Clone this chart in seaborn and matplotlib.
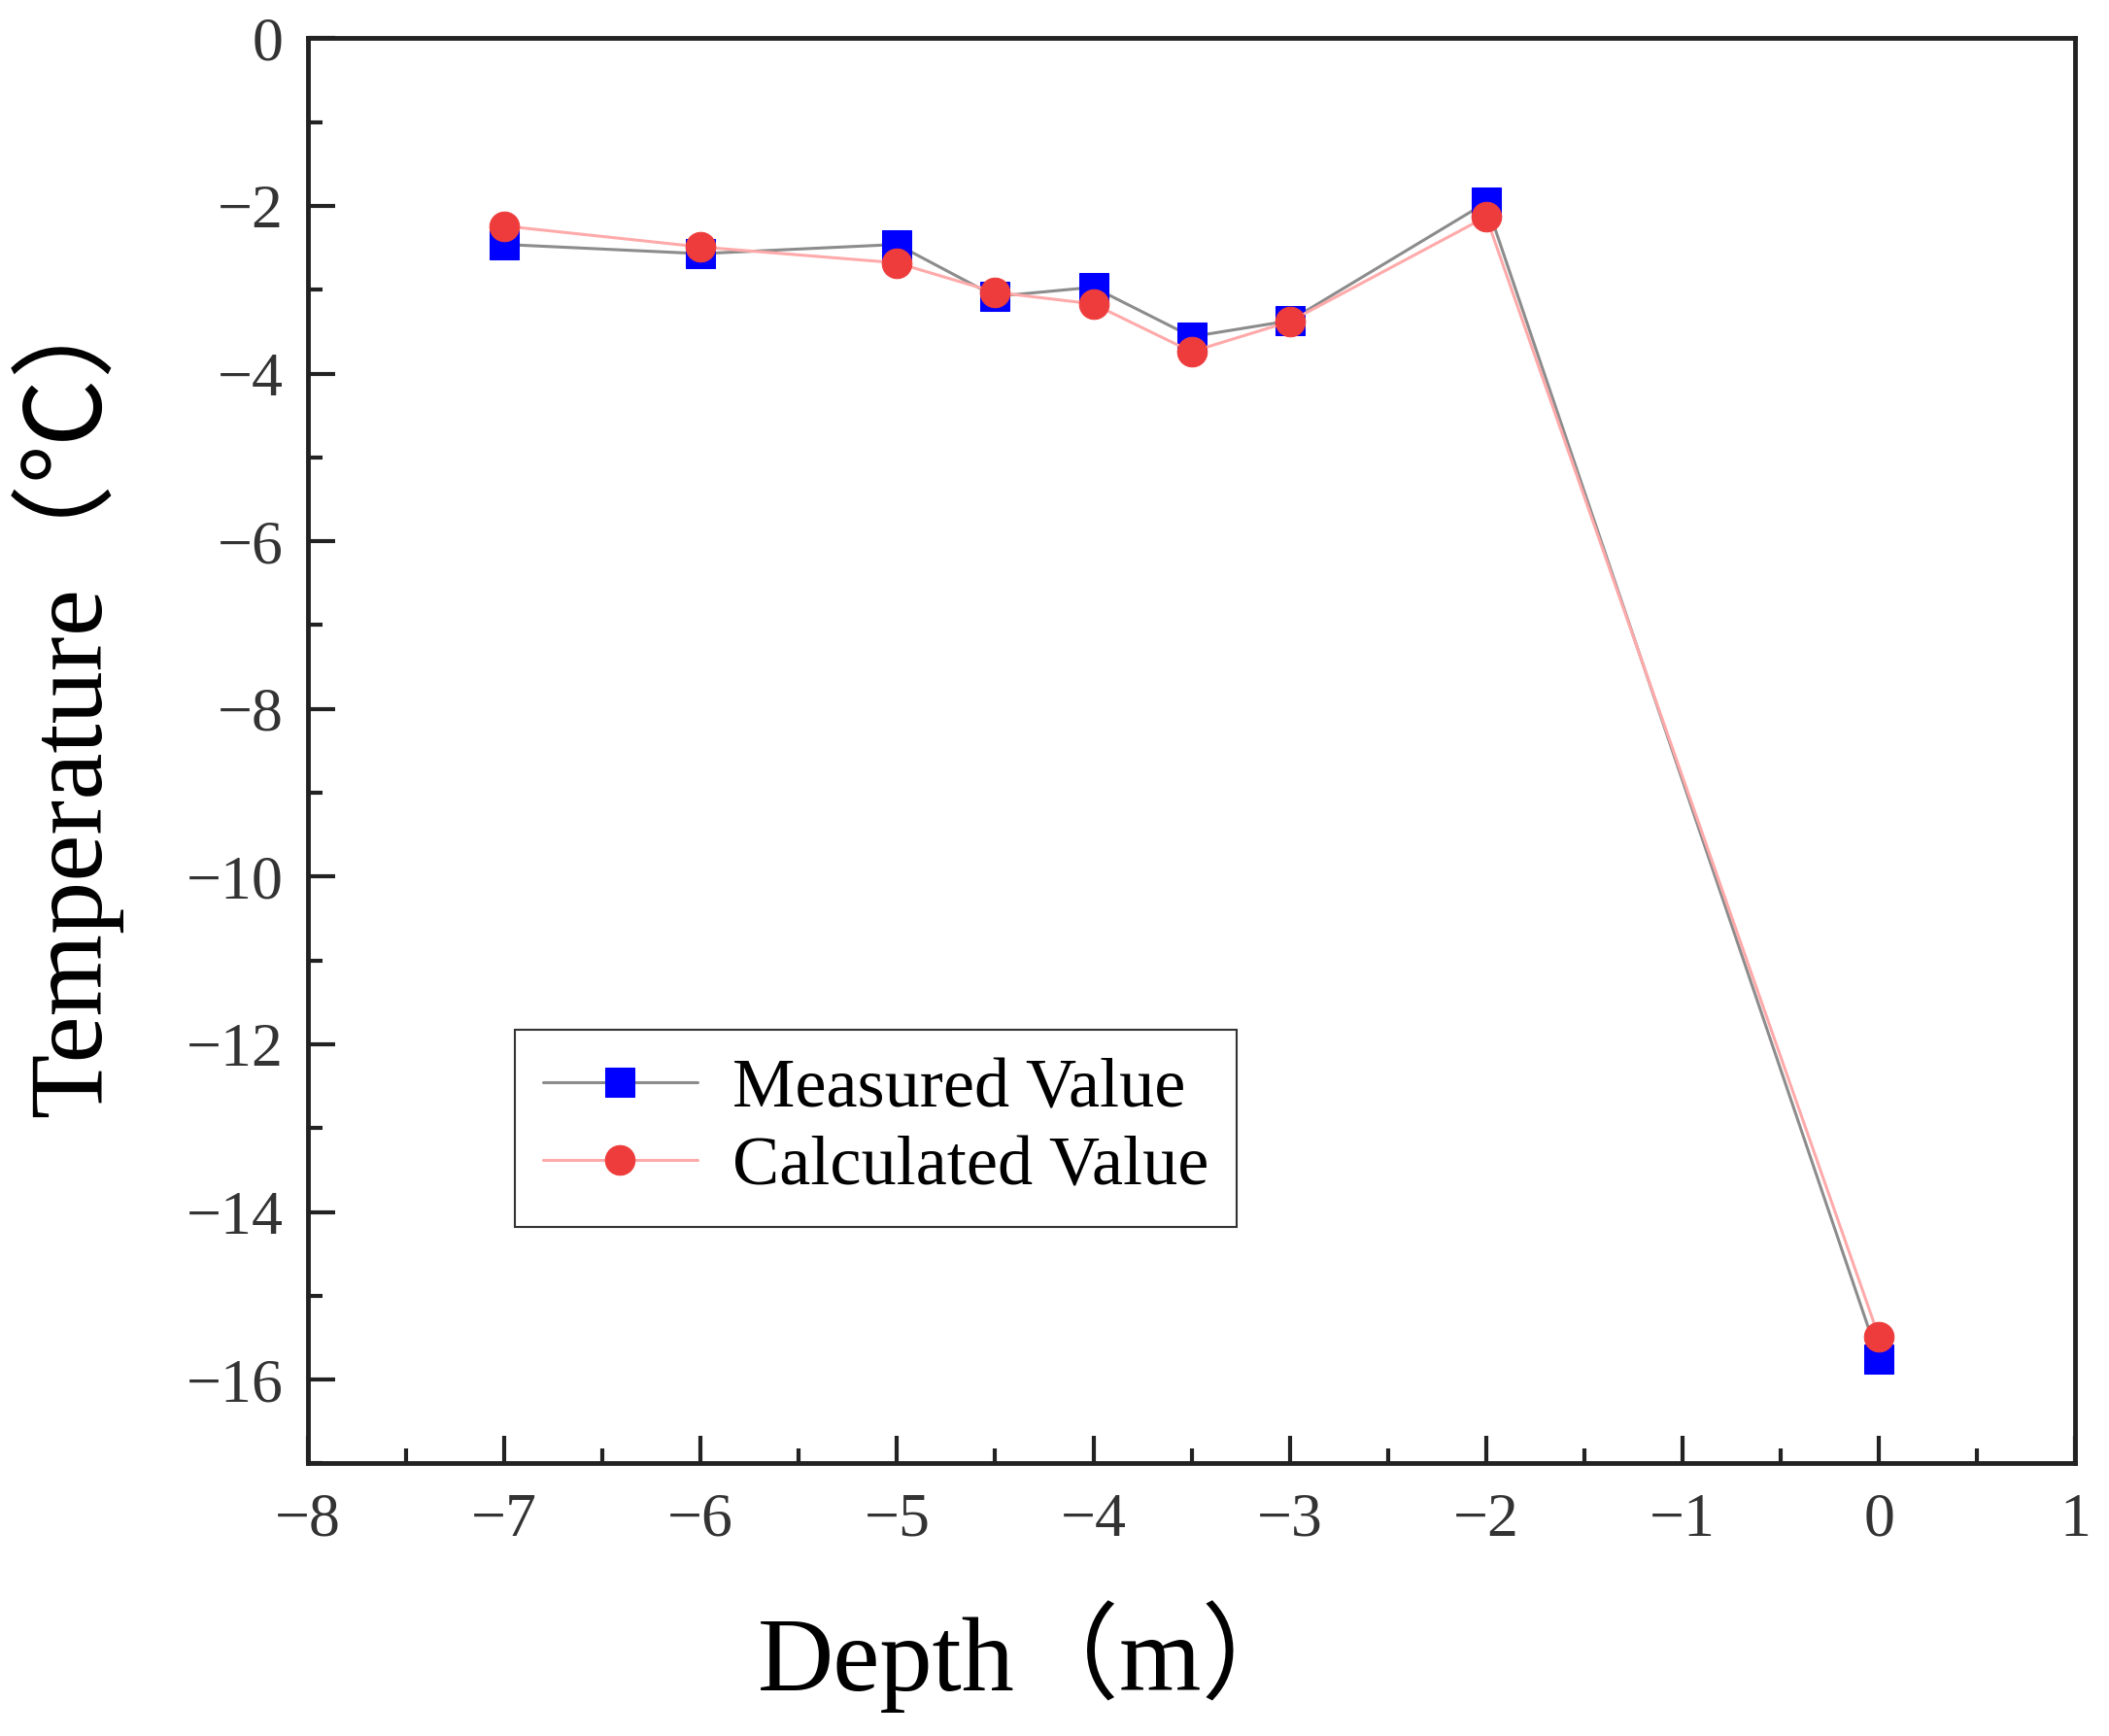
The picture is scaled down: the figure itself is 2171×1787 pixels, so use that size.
import pandas as pd
import matplotlib
matplotlib.use("Agg")
import matplotlib.pyplot as plt
import seaborn as sns
from matplotlib.ticker import MultipleLocator

depth = [-7, -6, -5, -4.5, -4, -3.5, -3, -2, 0]
measured = [-2.46, -2.57, -2.46, -3.08, -2.97, -3.56, -3.37, -1.96, -15.75]
calculated = [-2.24, -2.49, -2.68, -3.03, -3.17, -3.74, -3.38, -2.13, -15.49]

data = pd.DataFrame({"Depth": depth, "Measured Value": measured, "Calculated Value": calculated})

sns.set_style("ticks")
fam = ["Liberation Serif", "Noto Sans CJK SC", "DejaVu Sans"]
plt.rcParams["font.family"] = fam

fig = plt.figure(figsize=(21.71, 17.87), dpi=100)
ax = fig.add_axes([0.146, 0.157, 0.838, 0.821])

sns.lineplot(data=data, x="Depth", y="Measured Value", ax=ax, color="#8c8c8c", lw=2.2,
             marker="s", markersize=21, markerfacecolor="#0000ff", markeredgecolor="#0000ff",
             label="Measured Value")
sns.lineplot(data=data, x="Depth", y="Calculated Value", ax=ax, color="#ffaaaa", lw=2.2,
             marker="o", markersize=22, markerfacecolor="#ee3c3c", markeredgecolor="#ee3c3c",
             label="Calculated Value")

ax.set_xlim(-8, 1)
ax.set_ylim(-17, 0)
ax.xaxis.set_major_locator(MultipleLocator(1))
ax.xaxis.set_minor_locator(MultipleLocator(0.5))
ax.yaxis.set_major_locator(MultipleLocator(2))
ax.yaxis.set_minor_locator(MultipleLocator(1))

for s in ax.spines.values():
    s.set_linewidth(3.5)
    s.set_color("#222222")
ax.tick_params(which="major", direction="in", length=20, width=3, color="#222222",
               labelsize=46, labelcolor="#333333")
ax.tick_params(which="minor", direction="in", length=11, width=3, color="#222222")
ax.tick_params(axis="x", which="major", pad=22)
ax.tick_params(axis="y", which="major", pad=18)
ax.tick_params(top=False, right=False, which="both")

ax.set_xlabel("Depth（m）", fontsize=78, family=fam, color="black")
ax.set_ylabel("Temperature（℃）", fontsize=78, family=fam, color="black")
ax.xaxis.set_label_coords(0.41, -0.096)
ax.yaxis.set_label_coords(-0.105, 0.54)

leg = ax.legend(loc="lower left", bbox_to_anchor=(0.117, 0.166), borderaxespad=0,
                fontsize=52, frameon=True, fancybox=False, handlelength=2.2,
                handletextpad=0.5, borderpad=0.4, labelspacing=0.2)
leg.get_frame().set_edgecolor("black")
leg.get_frame().set_linewidth(1.5)
for t in leg.get_texts():
    t.set_color("black")

fig.savefig("out.png", dpi=100)
